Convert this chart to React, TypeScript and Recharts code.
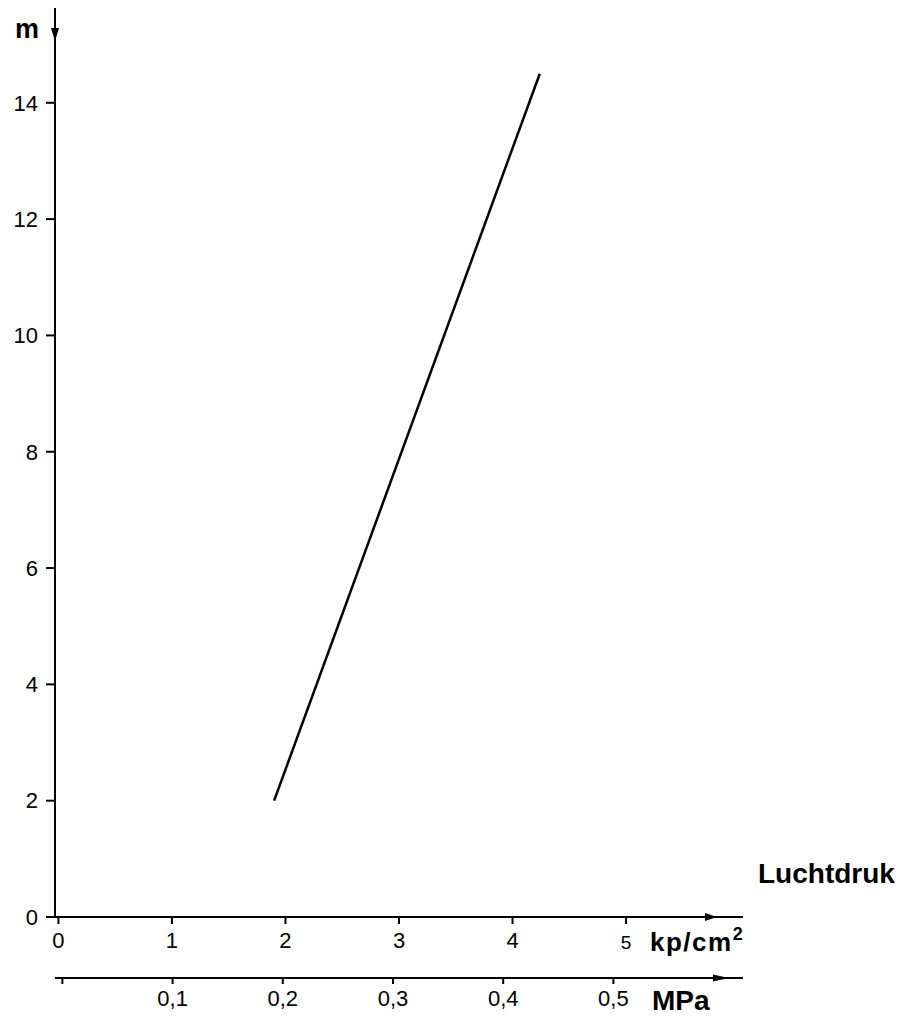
import React from "react";
import { LineChart, Line, XAxis, YAxis } from "recharts";

// Luchtdruk (kp/cm2) against height (m)
const pressureKp = [1.9, 4.24];
const heightM = [2.0, 14.5];

const kpTicks = [0, 1, 2, 3, 4, 5];
const mpaTicks = [0, 0.1, 0.2, 0.3, 0.4, 0.5];
const mTicks = [0, 2, 4, 6, 8, 10, 12, 14];

const data = pressureKp.map((kp, i) => ({ kp, m: heightM[i] }));

const font = "'Liberation Sans', Arial, Helvetica, sans-serif";

const KpTick = (props: any) => {
  const { x, y, payload } = props;
  const small = payload.value === 5;
  return (
    <text
      x={x}
      y={y}
      dy={small ? "0.9em" : "0.71em"}
      textAnchor="middle"
      fontFamily={font}
      fontSize={small ? 19 : 22}
      fill="#000"
    >
      {payload.value}
    </text>
  );
};

const mpaFmt = (v: number) => (v === 0 ? "" : String(v).replace(".", ","));

const App = () => {
  return (
    <div style={{ width: 897, height: 1010, fontFamily: font, position: "relative" }}>
      <svg width={0} height={0} style={{ position: "absolute" }}>
        <defs>
          <marker id="arrKp" markerUnits="userSpaceOnUse" markerWidth={20} markerHeight={20}
            refX={38} refY={0} orient="auto" overflow="visible">
            <path d="M0,-4 L12,0 L0,4 z" fill="#000" />
          </marker>
          <marker id="arrMpa" markerUnits="userSpaceOnUse" markerWidth={20} markerHeight={20}
            refX={30} refY={0} orient="auto" overflow="visible">
            <path d="M0,-3.5 L16,0 L0,3.5 z" fill="#000" />
          </marker>
          <marker id="arrM" markerUnits="userSpaceOnUse" markerWidth={20} markerHeight={20}
            refX={0} refY={0} orient="auto" overflow="visible">
            <path d="M20,-4 L33,0 L20,4 z" fill="#000" />
          </marker>
        </defs>
      </svg>
      <LineChart
        width={897}
        height={1010}
        data={data}
        margin={{ top: 0, right: 162, bottom: 0, left: 0 }}
      >
        <XAxis
          dataKey="kp"
          type="number"
          domain={[-0.03, 6.03]}
          ticks={kpTicks}
          allowDataOverflow
          height={61}
          tickSize={7}
          tickMargin={8}
          tick={<KpTick />}
          axisLine={{ stroke: "#000", strokeWidth: 2, markerEnd: "url(#arrKp)" }}
          tickLine={{ stroke: "#000", strokeWidth: 2 }}
        />
        <XAxis
          xAxisId="mpa"
          dataKey="mpa"
          type="number"
          domain={[-0.0067, 0.6176]}
          ticks={mpaTicks}
          allowDataOverflow
          height={40}
          tickSize={6}
          tickMargin={6}
          tickFormatter={mpaFmt}
          tick={{ fill: "#000", fontSize: 22, fontFamily: font }}
          axisLine={{ stroke: "#000", strokeWidth: 2, markerEnd: "url(#arrMpa)" }}
          tickLine={{ stroke: "#000", strokeWidth: 2 }}
        />
        <YAxis
          dataKey="m"
          type="number"
          domain={[0, 15.63]}
          ticks={mTicks}
          allowDataOverflow
          width={47}
          tickSize={9}
          tickMargin={8}
          tick={{ fill: "#000", fontSize: 22, fontFamily: font }}
          axisLine={{ stroke: "#000", strokeWidth: 2, markerStart: "url(#arrM)" }}
          tickLine={{ stroke: "#000", strokeWidth: 2 }}
        />
        <Line
          dataKey="m"
          type="linear"
          stroke="#000"
          strokeWidth={2.5}
          dot={false}
          isAnimationActive={false}
        />
        <text x={7} y={30} fontFamily={font} fontWeight="bold" fontSize={27} fill="#000">m</text>
        <text x={750} y={875} fontFamily={font} fontWeight="bold" fontSize={28} fill="#000">Luchtdruk</text>
        <text x={642} y={943} fontFamily={font} fontWeight="bold" fontSize={26} fill="#000" letterSpacing={1.5}>
          kp/cm<tspan fontSize={18} dy={-11}>2</tspan>
        </text>
        <text x={644} y={1002} fontFamily={font} fontWeight="bold" fontSize={28} fill="#000">MPa</text>
      </LineChart>
    </div>
  );
};

export default App;
